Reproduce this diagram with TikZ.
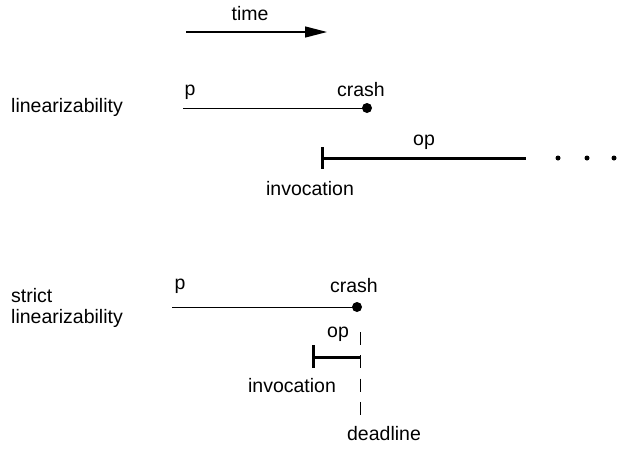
\documentclass[tikz,border=0pt]{standalone}
\usepackage{fontspec}
\setmainfont{Liberation Sans}
\usetikzlibrary{arrows.meta}
\begin{document}
\begin{tikzpicture}[x=1pt,y=-1pt,
  lbl/.style={inner sep=0pt,anchor=base,font=\fontsize{19.5}{21}\selectfont},
  lblw/.style={lbl,anchor=base west},
  thin line/.style={line width=1pt},
  op line/.style={line width=3pt},
  dot/.style={circle,fill=black,inner sep=0pt,minimum size=10pt},
  small dot/.style={circle,fill=black,inner sep=0pt,minimum size=5pt},
  deadline mark/.style={line width=0.8pt,dash pattern=on 13pt off 10.3pt}]
\useasboundingbox (0,0) rectangle (621,448);

% time axis
\node[lbl] (time) at (250,20) {time};
\coordinate (t0) at (186,32);
\coordinate (t1) at (327,32);
\draw[line width=1.3pt,-{Triangle[length=22pt,width=11pt]}] (t0) -- (t1);

% linearizability
\node[lblw] (lin) at (11,112) {linearizability};
\node[lbl] (p1) at (190,95) {p};
\coordinate (p1s) at (183,108);
\node[dot] (c1) at (367,108) {};
\node[lbl] (crash1) at (361,96) {crash};
\draw[thin line] (p1s) -- (c1.center);

\coordinate (inv1) at (322,158);
\coordinate (op1e) at (526,158);
\coordinate (inv1t) at (322,147);
\coordinate (inv1b) at (322,169);
\draw[op line] (inv1) -- (op1e);
\draw[op line] (inv1t) -- (inv1b);
\node[lbl] (op1) at (424,145) {op};
\node[lbl] (invl1) at (310,195) {invocation};
\node[small dot] (d1) at (558,158) {};
\node[small dot] (d2) at (587,158) {};
\node[small dot] (d3) at (614,158) {};

% strict linearizability
\node[lblw] (strict) at (11,302) {strict};
\node[lblw] (slin) at (11,323) {linearizability};
\node[lbl] (p2) at (180,289) {p};
\coordinate (p2s) at (172,307);
\node[dot] (c2) at (357,307) {};
\node[lbl] (crash2) at (354,292) {crash};
\draw[thin line] (p2s) -- (c2.center);

\coordinate (dl0) at (360,332);
\coordinate (dl1) at (360,418);
\draw[deadline mark] (dl0) -- (dl1);
\node[lbl] (deadl) at (384,440) {deadline};

\coordinate (inv2) at (313,357);
\coordinate (op2e) at (360,357);
\coordinate (inv2t) at (313,345);
\coordinate (inv2b) at (313,368);
\draw[op line] (inv2) -- (op2e);
\draw[op line] (inv2t) -- (inv2b);
\node[lbl] (op2) at (338,337) {op};
\node[lbl] (invl2) at (292,392) {invocation};
\end{tikzpicture}
\end{document}
